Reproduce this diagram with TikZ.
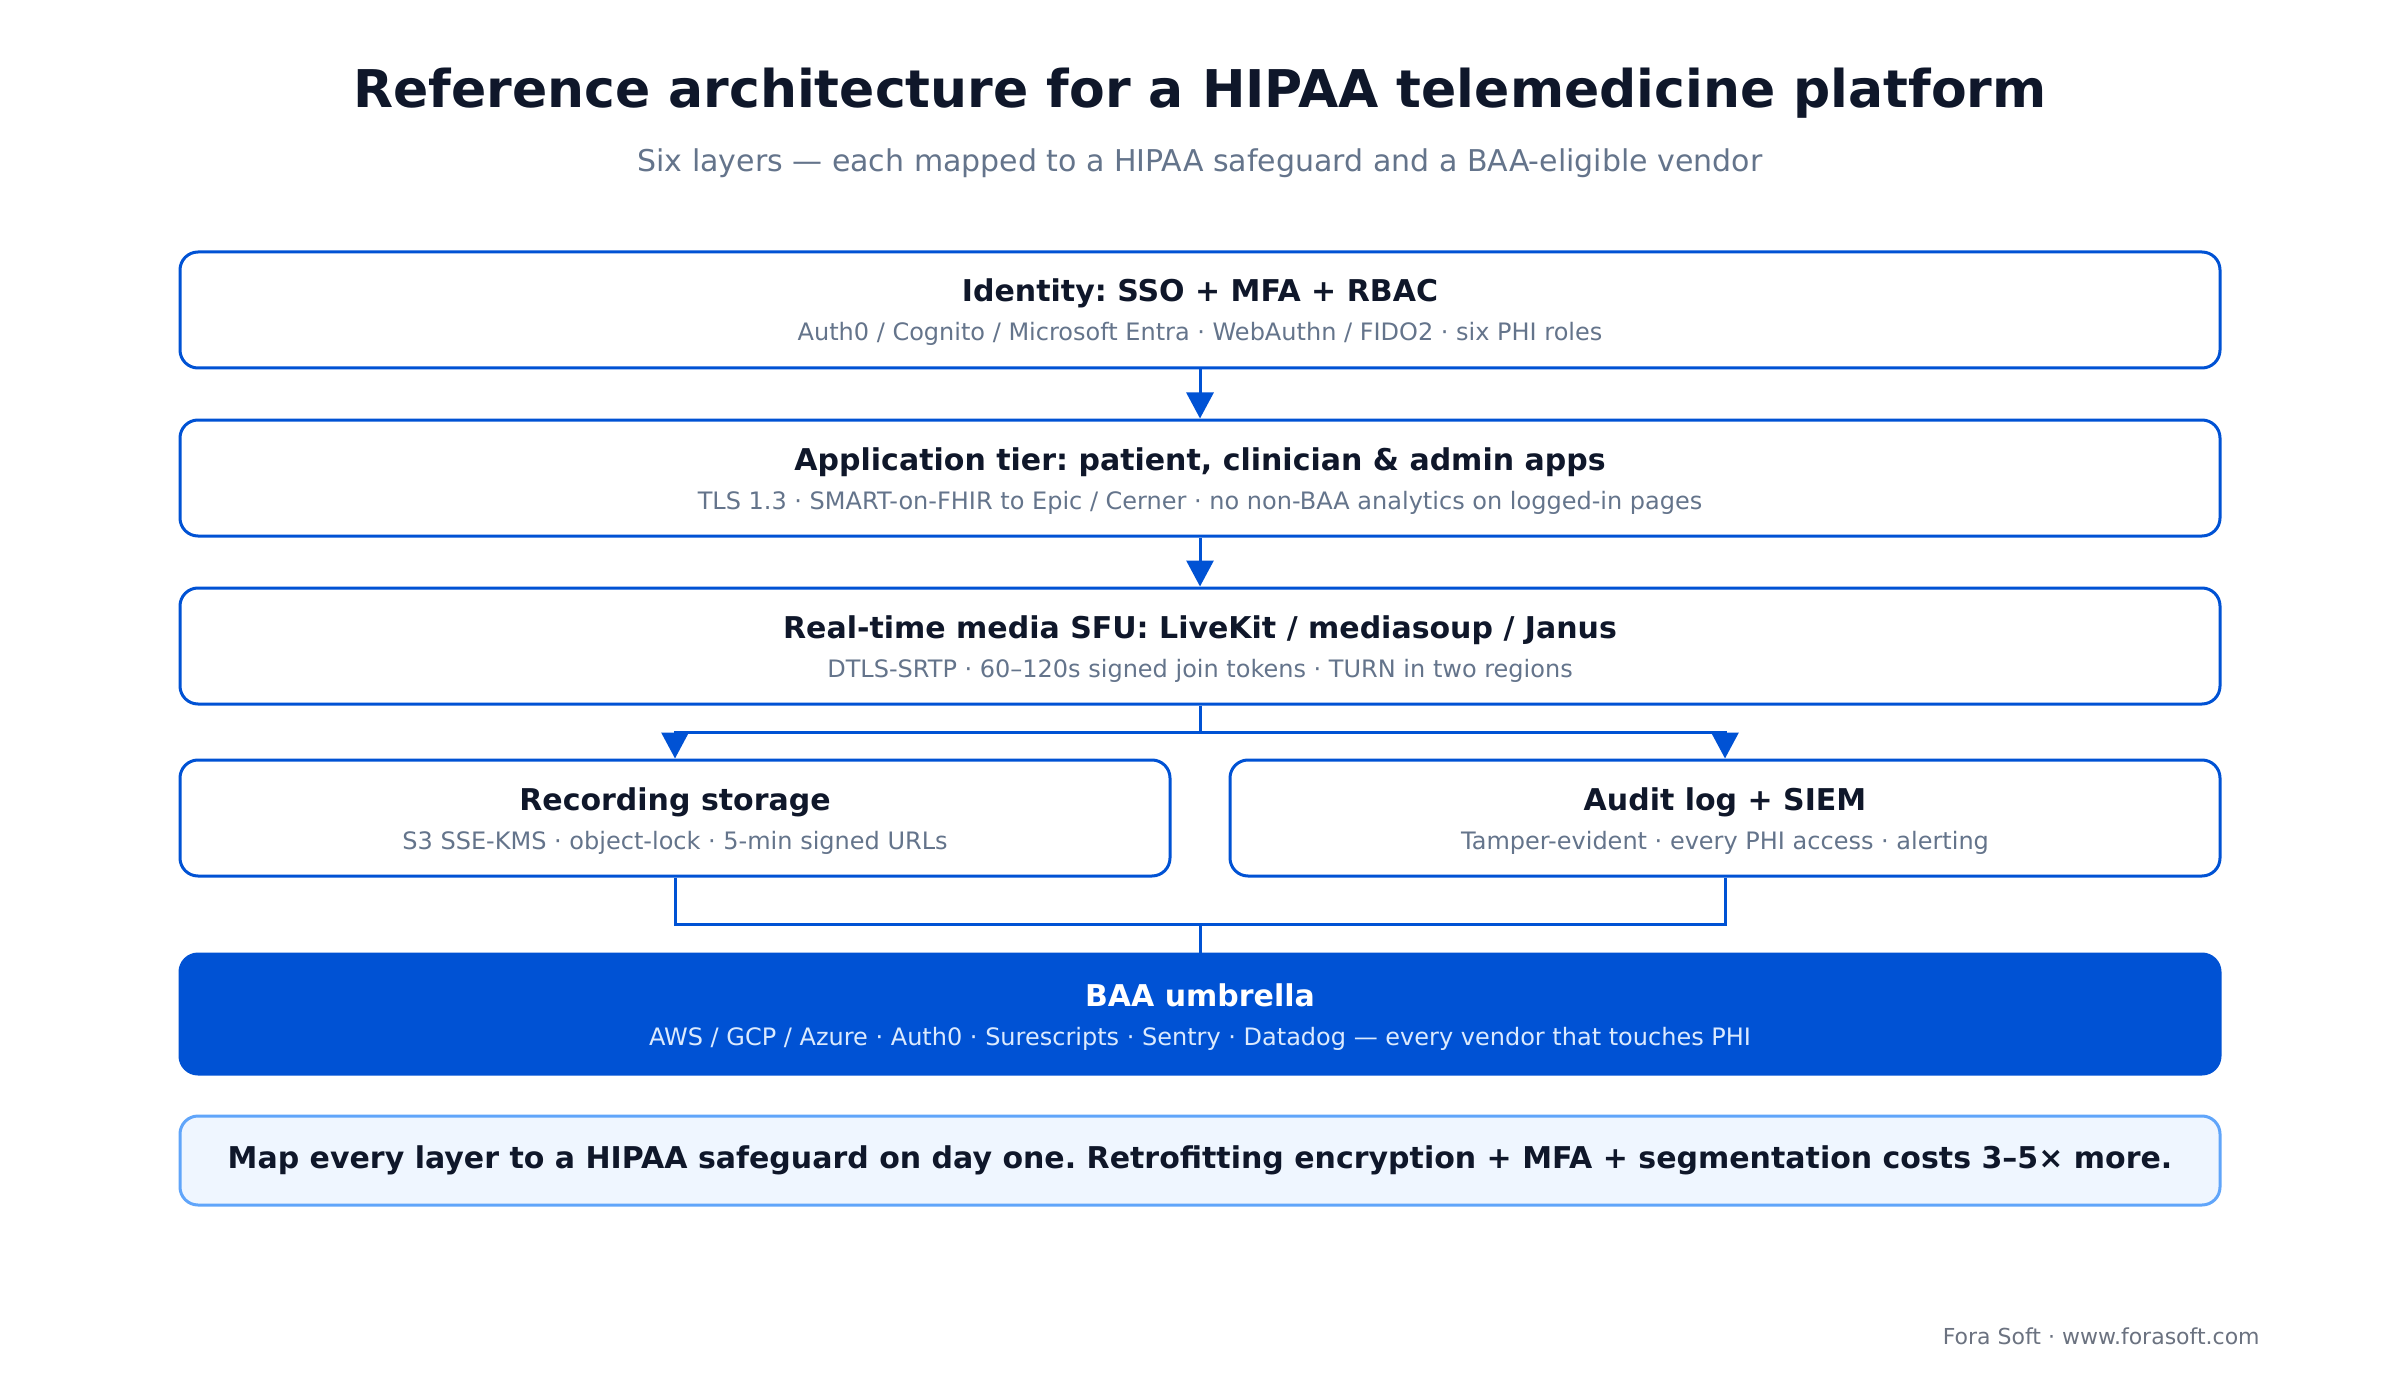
\documentclass[tikz,border=0pt]{standalone}
\usepackage{fontspec}
\setmainfont{DejaVu Sans}
\usetikzlibrary{arrows.meta}
\definecolor{brand}{HTML}{0052D4}
\definecolor{ink}{HTML}{0F172A}
\definecolor{slate}{HTML}{64748B}
\definecolor{notefill}{HTML}{EFF6FF}
\definecolor{noteline}{HTML}{60A5FA}
\definecolor{footgray}{HTML}{6B7280}
\definecolor{baasub}{HTML}{DBEAFE}
\frenchspacing

\tikzset{
	layer/.style={draw=brand, line width=1.5pt, rounded corners=9pt, fill=white, minimum width=1020pt, minimum height=58pt, inner sep=0pt},
	halflayer/.style={layer, minimum width=495pt},
	ttl/.style={anchor=base, inner sep=0pt, text=ink, font=\fontsize{15}{18}\selectfont\bfseries},
	sub/.style={anchor=base, inner sep=0pt, text=slate, font=\fontsize{12}{14}\selectfont},
	link/.style={draw=brand, line width=1.5pt},
	arr/.style={link, -{Triangle[length=13pt,width=13.5pt]}},
}

\begin{document}
\begin{tikzpicture}[x=0.5pt,y=-0.5pt]
	\fill[white] (0,0) rectangle (2400,1380);
	\useasboundingbox (0,0) rectangle (2400,1380);
	% heading
	\node[anchor=base, inner sep=0pt, text=ink, font=\fontsize{26}{30}\selectfont\bfseries] (title) at (1200,108) {Reference architecture for a HIPAA telemedicine platform};
	\node[anchor=base, inner sep=0pt, text=slate, font=\fontsize{15}{18}\selectfont] (subtitle) at (1200,172) {Six layers — each mapped to a HIPAA safeguard and a BAA-eligible vendor};
	% layers
	\node[layer] (identity) at (1200,310) {};
	\node[ttl] (identityT) at (1200,302) {Identity: SSO + MFA + RBAC};
	\node[sub] (identityS) at (1200,341) {Auth0 / Cognito / Microsoft Entra · WebAuthn / FIDO2 · six PHI roles};
	\node[layer] (apptier) at (1200,478) {};
	\node[ttl] (apptierT) at (1200,470) {Application tier: patient, clinician \& admin apps};
	\node[sub] (apptierS) at (1200,509) {TLS 1.3 · SMART-on-FHIR to Epic / Cerner · no non-BAA analytics on logged-in pages};
	\node[layer] (sfu) at (1200,646) {};
	\node[ttl] (sfuT) at (1200,638) {Real-time media SFU: LiveKit / mediasoup / Janus};
	\node[sub] (sfuS) at (1200,677) {DTLS-SRTP · 60–120s signed join tokens · TURN in two regions};
	\node[halflayer] (recording) at (675,818) {};
	\node[ttl] (recordingT) at (675,810) {Recording storage};
	\node[sub] (recordingS) at (675,849) {S3 SSE-KMS · object-lock · 5-min signed URLs};
	\node[halflayer] (audit) at (1725,818) {};
	\node[ttl] (auditT) at (1725,810) {Audit log + SIEM};
	\node[sub] (auditS) at (1725,849) {Tamper-evident · every PHI access · alerting};
	\node[layer, fill=brand, minimum height=60pt] (baa) at (1200,1014) {};
	\node[ttl, text=white] (baaT) at (1200,1006) {BAA umbrella};
	\node[sub, text=baasub] (baaS) at (1200,1045) {AWS / GCP / Azure · Auth0 · Surescripts · Sentry · Datadog — every vendor that touches PHI};
	% takeaway
	\node[layer, draw=noteline, fill=notefill, minimum height=44.5pt] (note) at (1200,1160.5) {};
	\node[ttl] (noteT) at (1200,1168) {Map every layer to a HIPAA safeguard on day one. Retrofitting encryption + MFA + segmentation costs 3–5× more.};
	\node[anchor=base east, inner sep=0pt, text=footgray, font=\fontsize{11}{13}\selectfont] (footer) at (2260,1344) {Fora Soft · www.forasoft.com};
	% connectors
	\coordinate (split) at (1200,732);
	\coordinate (merge) at (1200,924);
	\draw[arr] (identity) -- (apptier);
	\draw[arr] (apptier) -- (sfu);
	\draw[link] (sfu) -- (split);
	\draw[arr] (split) -| (recording);
	\draw[arr] (split) -| (audit);
	\draw[link] (recording) |- (merge);
	\draw[link] (audit) |- (merge);
	\draw[link] (merge) -- (baa);
\end{tikzpicture}
\end{document}
